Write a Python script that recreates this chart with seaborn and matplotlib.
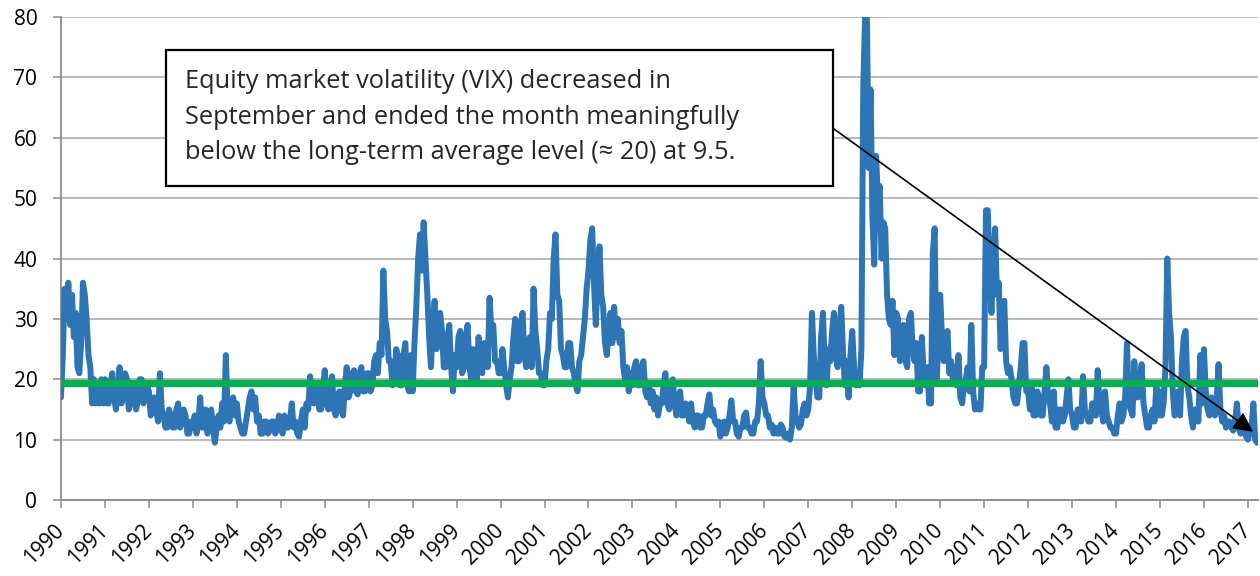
import numpy as np
import pandas as pd
import matplotlib
matplotlib.use("Agg")
import matplotlib.pyplot as plt
from matplotlib.patches import Rectangle
import seaborn as sns

# half-monthly readings of the VIX band, positioned on the chart's year axis
vix_1990s = [
    17, 24, 35, 30, 36, 29, 34, 27, 31, 22, 21, 26, 36, 34, 30, 24, 22, 16, 20, 16, 19, 16, 20, 16,    # 1990
    20, 16, 16, 19, 21, 17, 15, 18, 22, 16, 17, 21, 20, 15, 16, 19, 19, 15, 16.5, 20, 20, 16, 17, 19,  # 1991
    18, 14, 15, 17, 15, 13, 21, 15, 14, 12, 12, 15, 14, 12, 12, 15, 16, 12, 13, 15, 14, 11, 11, 13,    # 1992
    12, 14, 11, 13, 17, 12, 12, 15, 11, 13, 15, 12, 9.5, 12, 14, 12, 16, 13, 24, 14, 13, 16, 17, 14,   # 1993
    16, 13, 12, 11, 11, 13, 15, 17, 18, 15, 17, 13, 14, 11, 11, 13, 13, 11, 11.5, 13, 13, 11, 12, 14,  # 1994
    12, 11, 14, 12, 12, 13, 16, 12, 13, 11, 10.5, 13, 15, 12, 16, 15, 20.5, 17, 16, 19, 19, 15, 15, 18,  # 1995
    21.5, 16, 15, 19, 20.5, 15, 14, 17, 18, 15, 14, 19, 22, 17, 18, 21, 21.5, 18, 17.5, 21, 22, 18, 18, 21,  # 1996
    21, 18, 19, 23, 24, 21, 26, 24, 38, 30, 28, 23, 23, 19, 20, 25, 24, 19, 19, 24, 26, 19, 18, 24,    # 1997
    18, 26, 32, 40, 44, 38, 46, 40, 34, 27, 22, 29, 33, 25, 26, 31, 28, 22, 22, 27, 29, 22, 18, 24,    # 1998
    22, 27, 28, 21, 22, 27, 29, 22, 20, 25, 24, 20, 27, 22, 21, 26, 26, 22, 33.5, 28, 29, 23, 23, 21,  # 1999
]
vix_2000s = [
    21, 25, 22, 19, 17, 20, 22, 27, 30, 23, 23, 29, 31, 24, 22, 26, 27, 22, 35, 28, 25, 21, 21, 19,    # 2000
    19, 23, 25, 31, 30, 40, 44, 34, 33, 25, 24, 22, 22, 26, 26, 22, 21, 19, 18, 23, 24, 27, 30, 35,    # 2001
    38, 43, 45, 36, 29, 37, 42, 34, 32, 26, 24, 28, 31, 26, 32, 27, 30, 26, 28, 22, 20, 22, 18, 21,    # 2002
    19, 22, 23, 19, 19, 22, 23, 18, 17, 19, 16, 18, 15, 17, 14, 16, 16, 19, 21, 16, 15, 18, 20, 16,    # 2003
    14, 17, 18, 14, 14, 16, 15, 13, 16, 13, 12, 14, 14, 12, 12, 14, 14, 16, 17.5, 14, 15, 13, 12.5, 13,  # 2004
    10.5, 12, 13, 11, 12, 14, 16.5, 13, 13, 11, 10.5, 12, 12, 14, 14.5, 12, 12, 11, 11, 13, 13, 16, 23, 17,  # 2005
    16, 14, 14, 12, 12.5, 11, 12, 11, 11, 12.5, 12, 10.5, 10.3, 11, 10, 12, 19, 14, 13, 12, 12.5, 15, 16, 14,  # 2006
    15, 19, 31, 24, 20, 17, 17, 27, 31, 22, 19, 25, 23, 28, 31, 24, 22, 29, 32, 24, 19, 23, 17, 24,    # 2007
    28, 22, 19, 21, 19, 25, 68, 80, 80, 55, 68, 47, 39, 57, 50, 52, 40, 46, 45, 34, 30, 29, 33, 24,    # 2008
    31, 30, 23, 26, 29, 23, 22, 30, 31, 25, 23, 26, 18, 18, 27, 21, 19, 22, 16, 16, 41, 45, 20, 25,    # 2009
]
vix_2010s = [
    34, 27, 23, 26, 28, 21, 23, 20, 22, 19, 24, 17, 16, 19, 20, 22, 18, 29, 18, 15, 16, 15, 15, 22,    # 2010
    22, 48, 48, 38, 31, 40, 45, 34, 36, 25, 30, 33, 23, 21, 22, 20, 17, 16, 16, 19, 22, 26, 26, 18,    # 2011
    18, 15, 19, 14, 14, 18, 17, 14, 14, 18, 22, 17, 16, 13, 18, 12, 12, 15, 15, 13, 14, 17, 20, 15,    # 2012
    14, 12, 12, 15, 15, 13, 20.5, 15, 14, 13, 13, 16, 16, 14, 21.5, 16, 15, 13, 18, 14, 13, 12, 12, 11,  # 2013
    11, 14, 16, 13, 14, 17, 26, 16, 15, 14, 23, 17, 17, 20, 22.5, 16, 14, 12, 12, 14, 15, 13, 19, 14,  # 2014
    18, 14, 16, 22, 40, 31, 27, 18, 14, 16, 18, 14, 23, 27, 28, 19, 17, 14, 12, 15, 15, 13, 24, 16,    # 2015
    25, 18, 15, 14, 17, 15, 14, 17, 22.5, 15, 13, 14, 12, 13, 13, 12, 11.5, 13, 16, 12, 11, 12, 11.5, 10.5,  # 2016
    10, 11, 12, 16, 10, 9.5, 9.5,                                                                      # 2017
]
long_term_avg = 19.4
years = list(range(1990, 2018))
note = ("Equity market volatility (VIX) decreased in\n"
        "September and ended the month meaningfully\n"
        "below the long-term average level (\u2248 20) at 9.5.")
arrow_from = (2007.56, 61.6)
arrow_to = (2017.12, 11.3)

vix = vix_1990s + vix_2000s + vix_2010s
df = pd.DataFrame({"t": 1990 + np.arange(len(vix)) / 24, "vix": vix})

sns.set_theme(style="white")
plt.rcParams["font.family"] = ["Open Sans", "DejaVu Sans"]

fig = plt.figure(figsize=(12.6, 5.76), dpi=100)
ax = fig.add_axes([0.0484, 0.1319, 0.95, 0.8385])

sns.lineplot(data=df, x="t", y="vix", ax=ax, color="#2E75B6", lw=4.3,
             solid_joinstyle="round", solid_capstyle="round", zorder=3)
ax.axhline(long_term_avg, color="#00B050", lw=5.3, zorder=4)

ax.set_xlim(1990, 2017.23)
ax.set_ylim(0, 80)
ax.set_yticks(range(0, 81, 10))
ax.set_xticks(years)
ax.set_xticklabels([str(y) for y in years], rotation=45, ha="right",
                   va="center", rotation_mode="anchor")
ax.set(xlabel="", ylabel="")
ax.yaxis.grid(True, color="#A6A6A6", lw=1.1)
ax.set_axisbelow(True)

for side in ["top", "right"]:
    ax.spines[side].set_visible(False)
for side in ["left", "bottom"]:
    ax.spines[side].set_color("#8C8C8C")
    ax.spines[side].set_linewidth(1.3)

ax.tick_params(axis="both", bottom=True, left=True, colors="#8C8C8C",
               labelcolor="black", labelsize=15, length=6, width=1.1)
ax.tick_params(axis="y", pad=11)
ax.tick_params(axis="x", pad=14)

# text box with arrow pointing at the latest level
ax.add_patch(Rectangle((0.0877, 0.650), 0.557, 0.282, transform=ax.transAxes,
                       facecolor="white", edgecolor="black", lw=1.6, zorder=6))
ax.text(0.1036, 0.793, note, transform=ax.transAxes, ha="left", va="center",
        fontsize=18.3, linespacing=1.57, zorder=7)
ax.annotate("", xy=arrow_to, xytext=arrow_from,
            arrowprops=dict(arrowstyle="-|>,head_length=0.6,head_width=0.3",
                            mutation_scale=20, color="black", lw=1.2,
                            shrinkA=0, shrinkB=0), zorder=8)

fig.savefig("out.png", dpi=100)
